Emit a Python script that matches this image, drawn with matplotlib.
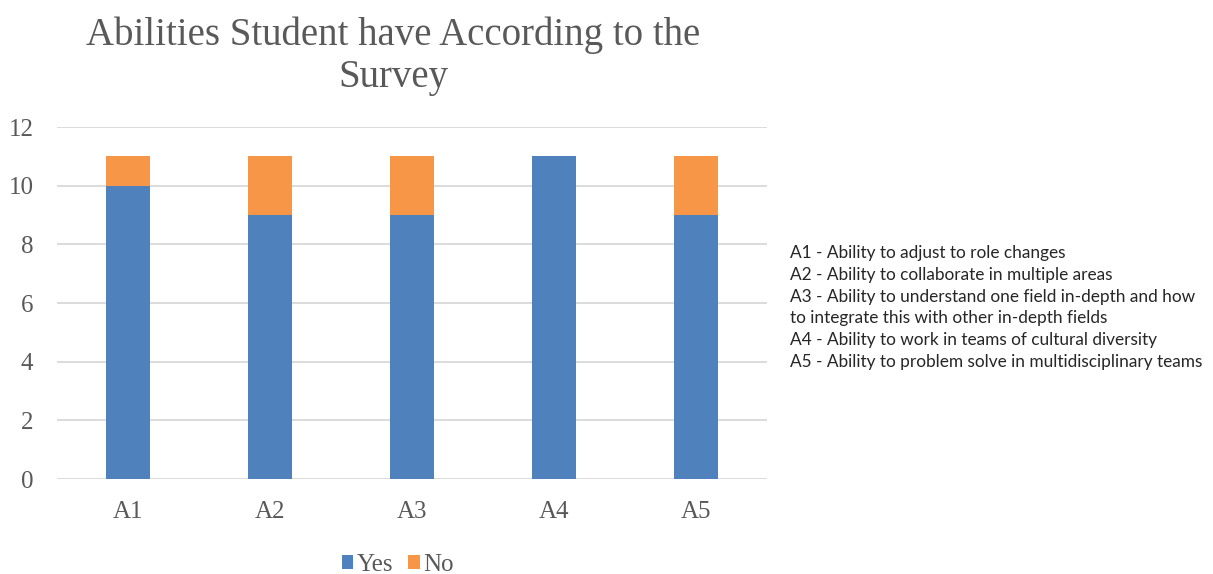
import numpy as np
import matplotlib
matplotlib.use("Agg")
import matplotlib.pyplot as plt

# survey answers per ability
abilities = ["A1", "A2", "A3", "A4", "A5"]
yes_counts = [10, 9, 9, 11, 9]
no_counts = [1, 2, 2, 0, 2]

titulo = ["Abilities Student have According to the", "Survey"]

descriptions = [
    "A1 - Ability to adjust to role changes",
    "A2 - Ability to collaborate in multiple areas",
    "A3 - Ability to understand one field in-depth and how",
    "to integrate this with other in-depth fields",
    "A4 - Ability to work in teams of cultural diversity",
    "A5 - Ability to problem solve in multidisciplinary teams",
]

AZUL = "#4F81BD"
NARANJA = "#F79646"
GRIS_TEXTO = "#595959"
GRIS_REJILLA = "#D9D9D9"
SERIF = "Liberation Serif"

fig = plt.figure(figsize=(12.13, 5.74), dpi=100)
ax = fig.add_axes([0.047, 0.1655, 0.585, 0.6132])

x = np.arange(len(abilities))
ancho = 0.31
ax.bar(x, yes_counts, ancho, color=AZUL, label="Yes", zorder=3)
ax.bar(x, no_counts, ancho, bottom=yes_counts, color=NARANJA, label="No", zorder=3)

ax.set_xlim(-0.5, len(abilities) - 0.5)
ax.set_ylim(0, 12)
ax.set_yticks(range(0, 13, 2))
ax.set_xticks(x)
ax.set_xticklabels(abilities)

ax.grid(axis="y", color=GRIS_REJILLA, linewidth=1.3, zorder=0)
for lado in ["top", "right", "left", "bottom"]:
    ax.spines[lado].set_visible(False)
ax.tick_params(length=0, labelsize=18, labelcolor=GRIS_TEXTO)
ax.tick_params(axis="x", pad=16)
ax.tick_params(axis="y", pad=17)
for etiqueta in ax.get_xticklabels() + ax.get_yticklabels():
    etiqueta.set_family(SERIF)

# titulo en dos lineas, centrado sobre el area de barras
for linea, yb in zip(titulo, [0.9216, 0.8484]):
    fig.text(0.324, yb, linea, ha="center", va="baseline", fontsize=28,
             color=GRIS_TEXTO, family=SERIF)

leyenda = fig.legend(loc="center", bbox_to_anchor=(0.328, 0.016), ncol=2,
                     frameon=False, prop={"family": SERIF, "size": 18},
                     handlelength=0.45, handleheight=0.45, handletextpad=0.15,
                     columnspacing=0.6)
for t in leyenda.get_texts():
    t.set_color(GRIS_TEXTO)

# descripcion de cada habilidad a la derecha
y0 = 0.5505
for i, linea in enumerate(descriptions):
    fig.text(0.651, y0 - i * 0.038, linea, ha="left", va="baseline",
             fontsize=12.4, color="#262626", family="Lato")

fig.savefig("out.png", dpi=100, facecolor="white")
